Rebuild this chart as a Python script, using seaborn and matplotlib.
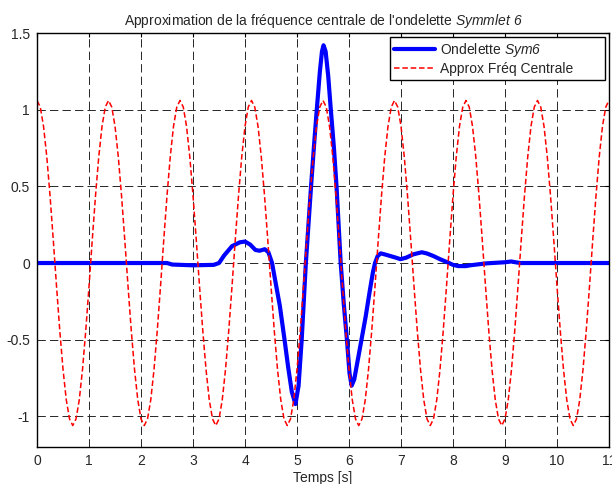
import numpy as np
import pandas as pd
import seaborn as sns
from matplotlib import pyplot as plt

# Sym6 wavelet (time [s], amplitude)
sym6_t = [0.0, 2.5, 2.6, 3.0, 3.4, 3.5, 3.6, 3.75, 3.9, 4.0, 4.1, 4.2, 4.28, 4.38,
          4.45, 4.52, 4.6, 4.67, 4.76, 4.83, 4.9, 4.97, 5.03, 5.09, 5.13, 5.17,
          5.22, 5.27, 5.33, 5.38, 5.44, 5.48, 5.51, 5.55, 5.6, 5.65, 5.71, 5.76,
          5.8, 5.84, 5.9, 5.96, 6.01, 6.05, 6.1, 6.17, 6.24, 6.32, 6.4, 6.46, 6.5,
          6.55, 6.61, 6.7, 6.79, 6.9, 6.99, 7.1, 7.24, 7.4, 7.5, 7.62, 7.75, 7.91,
          8.0, 8.1, 8.25, 8.33, 8.5, 8.65, 9.0, 9.12, 9.2, 9.3, 11.0]
sym6_y = [0.0, 0.0, -0.01, -0.015, -0.012, 0.0, 0.05, 0.11, 0.135, 0.14, 0.12,
          0.085, 0.08, 0.09, 0.07, 0.0, -0.15, -0.28, -0.5, -0.68, -0.84, -0.92,
          -0.8, -0.5, -0.25, 0.0, 0.25, 0.5, 0.78, 1.0, 1.25, 1.38, 1.42, 1.38,
          1.22, 1.0, 0.75, 0.5, 0.25, 0.0, -0.27, -0.5, -0.72, -0.8, -0.76, -0.63,
          -0.5, -0.35, -0.18, -0.06, 0.0, 0.045, 0.063, 0.055, 0.046, 0.035, 0.025,
          0.035, 0.057, 0.07, 0.062, 0.046, 0.025, 0.002, -0.012, -0.02, -0.02,
          -0.015, -0.008, -0.002, 0.005, 0.01, 0.005, 0.0, 0.0]

# centre-frequency cosine, read every 1/16 s from 0 to 11 s
approx_y = [
    1.06, 1.017, 0.892, 0.694, 0.44, 0.151, -0.151, -0.44, -0.694, -0.892, -1.017,
    -1.06, -1.017, -0.892, -0.694, -0.44, -0.151, 0.151, 0.44, 0.694, 0.892, 1.017,
    1.06, 1.017, 0.892, 0.694, 0.44, 0.151, -0.151, -0.44, -0.694, -0.892, -1.017,
    -1.06, -1.017, -0.892, -0.694, -0.44, -0.151, 0.151, 0.44, 0.694, 0.892, 1.017,
    1.06, 1.017, 0.892, 0.694, 0.44, 0.151, -0.151, -0.44, -0.694, -0.892, -1.017,
    -1.06, -1.017, -0.892, -0.694, -0.44, -0.151, 0.151, 0.44, 0.694, 0.892, 1.017,
    1.06, 1.017, 0.892, 0.694, 0.44, 0.151, -0.151, -0.44, -0.694, -0.892, -1.017,
    -1.06, -1.017, -0.892, -0.694, -0.44, -0.151, 0.151, 0.44, 0.694, 0.892, 1.017,
    1.06, 1.017, 0.892, 0.694, 0.44, 0.151, -0.151, -0.44, -0.694, -0.892, -1.017,
    -1.06, -1.017, -0.892, -0.694, -0.44, -0.151, 0.151, 0.44, 0.694, 0.892, 1.017,
    1.06, 1.017, 0.892, 0.694, 0.44, 0.151, -0.151, -0.44, -0.694, -0.892, -1.017,
    -1.06, -1.017, -0.892, -0.694, -0.44, -0.151, 0.151, 0.44, 0.694, 0.892, 1.017,
    1.06, 1.017, 0.892, 0.694, 0.44, 0.151, -0.151, -0.44, -0.694, -0.892, -1.017,
    -1.06, -1.017, -0.892, -0.694, -0.44, -0.151, 0.151, 0.44, 0.694, 0.892, 1.017,
    1.06, 1.017, 0.892, 0.694, 0.44, 0.151, -0.151, -0.44, -0.694, -0.892, -1.017,
    -1.06, -1.017, -0.892, -0.694, -0.44, -0.151, 0.151, 0.44, 0.694, 0.892, 1.017,
    1.06]
approx_t = np.linspace(0, 11, len(approx_y))

x_ticks = list(range(0, 12))
y_ticks = [-1, -0.5, 0, 0.5, 1, 1.5]
y_tick_labels = ['-1', '-0.5', '0', '0.5', '1', '1.5']

sns.set_style('white')
plt.rcParams['font.family'] = ['Liberation Sans', 'DejaVu Sans']
# mathtext is only used for the italic bits, so make its roman face italic
plt.rcParams['mathtext.fontset'] = 'custom'
plt.rcParams['mathtext.rm'] = 'Liberation Sans:italic'
plt.rcParams['mathtext.it'] = 'Liberation Sans:italic'
plt.rcParams['axes.unicode_minus'] = False
plt.rcParams['lines.scale_dashes'] = False

fig = plt.figure(figsize=(6.12, 4.84), dpi=100)
ax = fig.add_axes([0.0605, 0.0764, 0.9346, 0.8554])

sym6 = pd.DataFrame({'t': sym6_t, 'y': sym6_y})
approx = pd.DataFrame({'t': approx_t, 'y': approx_y})

sns.lineplot(data=sym6, x='t', y='y', color='#0000ff', lw=3,
             label=r'Ondelette $\mathrm{Sym6}$' + ' ' * 7, ax=ax)
sns.lineplot(data=approx, x='t', y='y', color='#ff0000', lw=1.1,
             linestyle=(0, (4, 2)), label='Approx Fréq Centrale' + ' ' * 7, ax=ax)

ax.set_xlim(0, 11)
ax.set_ylim(-1.2, 1.5)
ax.set_xticks(x_ticks)
ax.set_yticks(y_ticks)
ax.set_yticklabels(y_tick_labels)
ax.tick_params(direction='in', length=3, labelsize=10, top=True, right=True,
               color='black', pad=5)
ax.grid(True, color='0.15', lw=0.7, linestyle=(0, (6, 3)))
for s in ax.spines.values():
    s.set_color('black')
    s.set_linewidth(1.0)

ax.set_xlabel('Temps [s]', fontsize=10, labelpad=2)
ax.set_ylabel('')
ax.set_title(r"Approximation de la fréquence centrale de l'ondelette $\mathrm{Symmlet\ 6}$",
             fontsize=10, pad=6)

leg = ax.legend(loc='upper right', fontsize=10, fancybox=False, framealpha=1,
                edgecolor='black', handlelength=2.9, handletextpad=0.4,
                borderaxespad=0.3, borderpad=0.3, labelspacing=0.2)
leg.get_frame().set_linewidth(1.0)

fig.savefig('out.png', dpi=100, facecolor='white')
